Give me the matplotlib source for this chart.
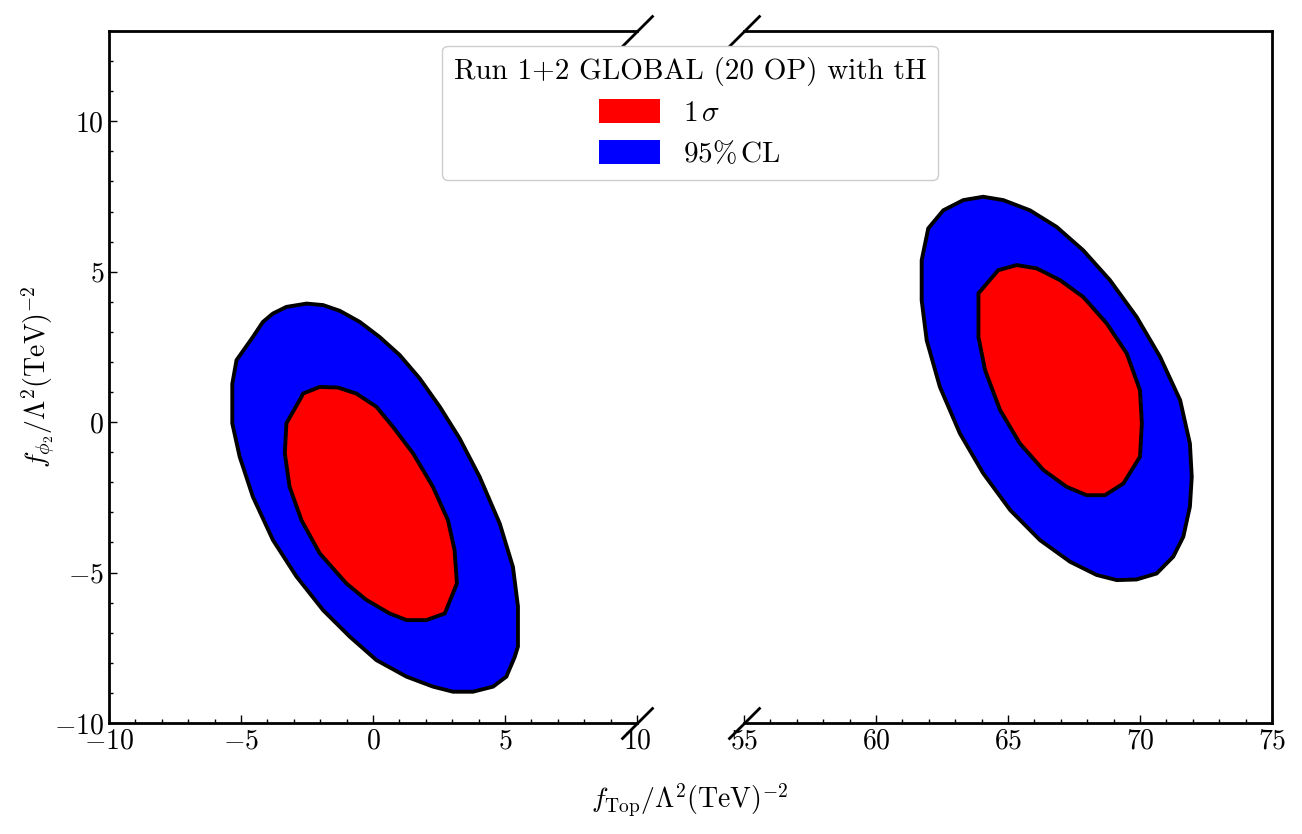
import matplotlib
matplotlib.use("Agg")
import matplotlib.pyplot as plt
from matplotlib.patches import Patch
from matplotlib.ticker import MultipleLocator

plt.rcParams['font.family'] = 'serif'
plt.rcParams['font.serif'] = ['cmr10']
plt.rcParams['mathtext.fontset'] = 'cm'
plt.rcParams['axes.formatter.use_mathtext'] = True
plt.rcParams['axes.unicode_minus'] = True

# contour outlines (f_Top, f_phi2)
left_95_x = [-3.28, -2.52, -1.89, -1.26, -0.50, 0.25, 1.01, 1.77, 2.53, 3.28, 4.04, 4.80, 5.30,
             5.49, 5.49, 5.37, 5.05, 4.55, 3.79, 3.03, 2.27, 1.27, 0.13, -0.88, -1.89, -2.90,
             -3.79, -4.55, -5.05, -5.33, -5.33, -5.17, -4.55, -4.17, -3.79]
left_95_y = [3.83, 3.94, 3.89, 3.70, 3.33, 2.83, 2.23, 1.45, 0.51, -0.54, -1.82, -3.37, -4.81,
             -6.12, -7.46, -7.80, -8.46, -8.79, -8.96, -8.96, -8.79, -8.46, -7.91, -7.13, -6.25,
             -5.13, -3.92, -2.48, -1.15, -0.04, 1.27, 2.06, 2.83, 3.33, 3.61]

left_1s_x = [-2.65, -2.02, -1.33, -0.63, 0.13, 0.76, 1.52, 2.27, 2.84, 3.09, 3.18, 2.72, 2.02,
             1.27, 0.63, -0.25, -1.01, -2.02, -2.71, -3.16, -3.34, -3.28, -2.71]
left_1s_y = [0.95, 1.17, 1.15, 0.95, 0.51, -0.16, -1.04, -2.15, -3.26, -4.25, -5.36, -6.36, -6.58,
             -6.58, -6.36, -5.91, -5.36, -4.36, -3.26, -2.15, -1.04, -0.04, 0.84]

right_95_x = [61.98, 62.55, 63.31, 64.06, 64.82, 65.83, 66.84, 67.85, 68.86, 69.87, 70.76, 71.52,
              71.89, 71.96, 71.89, 71.64, 71.26, 70.63, 69.87, 69.12, 68.36, 67.35, 66.21, 65.08,
              64.06, 63.18, 62.42, 61.92, 61.73, 61.73]
right_95_y = [6.44, 7.04, 7.38, 7.49, 7.38, 7.04, 6.49, 5.71, 4.72, 3.50, 2.17, 0.73, -0.71, -1.82,
              -2.81, -3.81, -4.47, -5.03, -5.23, -5.25, -5.08, -4.64, -3.92, -2.92, -1.70, -0.38,
              1.17, 2.72, 4.05, 5.38]

right_1s_x = [64.63, 65.33, 66.09, 66.97, 67.85, 68.74, 69.50, 70.00, 70.07, 70.00, 69.37, 68.67,
              67.98, 67.22, 66.34, 65.45, 64.70, 64.13, 63.88, 63.88]
right_1s_y = [5.05, 5.22, 5.11, 4.72, 4.16, 3.28, 2.28, 1.06, -0.04, -1.15, -2.04, -2.43, -2.43,
              -2.15, -1.59, -0.71, 0.40, 1.73, 2.83, 4.28]

left_xticks = [-10, -5, 0, 5, 10]
right_xticks = [55, 60, 65, 70, 75]
yticks = [-10, -5, 0, 5, 10]

fig = plt.figure(figsize=(13.02, 8.34), dpi=100)
ax1 = fig.add_axes([109 / 1302, 111 / 834, 528 / 1302, 692 / 834])
ax2 = fig.add_axes([744 / 1302, 111 / 834, 528 / 1302, 692 / 834])

for ax in (ax1, ax2):
    for s in ax.spines.values():
        s.set_linewidth(2)
    ax.set_ylim(-10, 13)
    ax.xaxis.set_minor_locator(MultipleLocator(1))
    ax.tick_params(which='both', direction='in', labelsize=20, width=1, top=False, right=False)
    ax.tick_params(which='major', length=6)
    ax.tick_params(which='minor', length=3)

ax1.set_xlim(-10, 10)
ax2.set_xlim(55, 75)
ax1.set_xticks(left_xticks)
ax2.set_xticks(right_xticks)
ax1.set_yticks(yticks)
ax1.yaxis.set_minor_locator(MultipleLocator(1))
ax1.spines['right'].set_visible(False)
ax2.spines['left'].set_visible(False)
ax2.tick_params(axis='y', which='both', left=False, labelleft=False)

ax1.fill(left_95_x, left_95_y, facecolor='blue', edgecolor='black', lw=2.8, zorder=2)
ax1.fill(left_1s_x, left_1s_y, facecolor='red', edgecolor='black', lw=2.8, zorder=3)
ax2.fill(right_95_x, right_95_y, facecolor='blue', edgecolor='black', lw=2.8, zorder=2)
ax2.fill(right_1s_x, right_1s_y, facecolor='red', edgecolor='black', lw=2.8, zorder=3)

# break marks
kw = dict(marker=[(-1, -1), (1, 1)], markersize=23, linestyle='none',
          color='k', mec='k', mew=2, clip_on=False, zorder=10)
ax1.plot([1, 1], [0, 1], transform=ax1.transAxes, **kw)
ax2.plot([0, 0], [0, 1], transform=ax2.transAxes, **kw)

ax1.set_ylabel(r'$f_{\phi_2}/\Lambda^2(\mathrm{TeV})^{-2}$', fontsize=20, labelpad=-2)
fig.text(690 / 1302, 1 - 800 / 834, r'$f_{\mathrm{Top}}/\Lambda^2(\mathrm{TeV})^{-2}$',
         fontsize=20, ha='center', va='center')

handles = [Patch(facecolor='red', edgecolor='none'), Patch(facecolor='blue', edgecolor='none')]
fig.legend(handles, [r'$1\,\sigma$', r'$95\%\,\mathrm{CL}$'],
           title='Run 1+2 GLOBAL (20 OP) with tH', title_fontsize=21, fontsize=21,
           loc='upper center', bbox_to_anchor=(690 / 1302, 1 - 31 / 834),
           handlelength=2.1, handleheight=0.85, labelspacing=0.45, framealpha=1)

fig.savefig('out.png', dpi=100)
